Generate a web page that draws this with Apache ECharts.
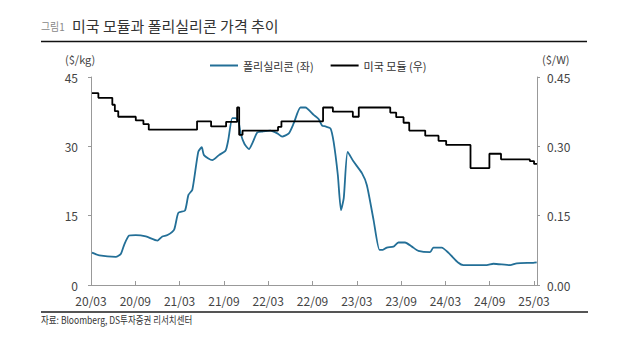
<!DOCTYPE html>
<html>
<head>
<meta charset="utf-8">
<script src="https://cdn.jsdelivr.net/npm/echarts@6/dist/echarts.min.js"></script>
<style>
html,body{margin:0;padding:0;background:#fff;}
#c{width:640px;height:347px;}
</style>
</head>
<body>
<div id="c"></div>
<script>
// ---- data ----
var xTickLabels = ['20/03','20/09','21/03','21/09','22/03','22/09','23/03','23/09','24/03','24/09','25/03'];

// Polysilicon price ($/kg), left axis
var polyDates = ['2020-03-05','2020-04-05','2020-06-12','2020-07-02','2020-07-16','2020-08-06','2020-09-03','2020-10-14',
  '2020-12-01','2020-12-21','2021-01-12','2021-02-09','2021-02-26','2021-03-23','2021-04-07','2021-04-23','2021-05-17',
  '2021-06-01','2021-06-10','2021-07-14','2021-08-11','2021-09-08','2021-09-19','2021-10-05','2021-10-18','2021-10-30',
  '2021-11-09','2021-11-25','2021-12-13','2021-12-28','2022-01-17','2022-02-08','2022-03-10','2022-04-08','2022-04-28',
  '2022-05-25','2022-06-15','2022-07-12','2022-08-02','2022-09-06','2022-09-26','2022-10-10','2022-10-24','2022-11-14',
  '2022-11-27','2022-12-14','2022-12-27','2023-01-08','2023-01-24','2023-02-18','2023-03-22','2023-04-12','2023-05-09',
  '2023-06-03','2023-06-17','2023-07-03','2023-07-30','2023-08-20','2023-09-17','2023-10-15','2023-11-11','2023-12-29',
  '2024-01-12','2024-02-16','2024-03-13','2024-04-24','2024-05-14','2024-08-19','2024-09-16','2024-11-24','2024-12-21',
  '2025-02-28','2025-03-12'];
var polyValues = [7.0,6.4,6.1,6.7,8.7,10.7,10.8,10.5,
  9.6,10.5,10.8,12.0,15.6,16.1,19.5,20.6,28.8,
  29.8,28.1,27.0,28.1,29.1,31.4,36.1,36.1,35.5,
  32.8,30.5,29.4,30.8,33.0,33.2,33.4,32.8,32.1,
  32.8,35.0,38.4,38.4,36.8,35.9,34.5,34.3,33.9,
  31.0,23.8,16.2,18.8,28.8,26.7,24.2,21.6,14.1,
  7.6,7.6,8.1,8.3,9.2,9.2,8.3,7.4,7.1,
  8.1,8.1,7.0,4.8,4.3,4.3,4.6,4.3,4.7,
  4.8,4.9];

// US module price ($/W), right axis (each value holds until the next date)
var moduleDates = ['2020-03-05','2020-04-01','2020-05-28','2020-06-08','2020-06-22','2020-09-03','2020-10-04','2020-10-26',
  '2021-05-12','2021-07-09','2021-09-10','2021-10-25','2021-11-03','2021-11-17','2022-04-11','2022-04-25','2022-10-14',
  '2022-11-24','2023-02-15','2023-03-09','2023-07-17','2023-08-11','2023-09-11','2023-10-04','2023-12-09','2024-02-03',
  '2024-03-04','2024-06-13','2024-08-30','2024-10-17','2025-02-14','2025-03-01','2025-03-13'];
var moduleValues = [0.415,0.405,0.390,0.376,0.364,0.356,0.348,0.336,
  0.354,0.343,0.353,0.384,0.325,0.334,0.342,0.354,0.384,
  0.375,0.364,0.384,0.373,0.363,0.351,0.334,0.323,0.312,
  0.303,0.253,0.284,0.272,0.268,0.262,0.262];

// ---- helpers ----
function monthsFromStart(s){
  var p = s.split('-').map(Number);
  return (p[0]-2020)*12 + (p[1]-3) + (p[2]-1)/30.4;
}
function pairs(dates, vals){
  return dates.map(function(d,i){ return [monthsFromStart(d), vals[i]]; });
}
var xTickValues = xTickLabels.map(function(_,i){ return i*6; });

var FONT = '"Noto Sans CJK KR", "Noto Sans", sans-serif';
var chart = echarts.init(document.getElementById('c'), null, {renderer:'svg'});
chart.setOption({
  animation:false,
  backgroundColor:'#fff',
  textStyle:{fontFamily:FONT},
  grid:{left:91, right:103, top:77, bottom:62, containLabel:false},
  legend:{
    left:205, top:55, itemGap:17, itemWidth:28, itemHeight:2, icon:'rect',
    textStyle:{fontSize:11, color:'#333', fontFamily:FONT},
    data:['폴리실리콘 (좌)','미국 모듈 (우)']
  },
  xAxis:{
    type:'value', min:0, max:60.4, interval:6,
    axisLine:{lineStyle:{color:'#999', width:1}},
    axisTick:{inside:true, length:4, lineStyle:{color:'#999'}, customValues:xTickValues},
    axisLabel:{color:'#444', fontSize:12, margin:9, fontFamily:FONT, customValues:xTickValues,
      formatter:function(v){ var i=Math.round(v/6); return xTickLabels[i]||''; }},
    splitLine:{show:false}
  },
  yAxis:[{
    type:'value', min:0, max:45, interval:15, position:'left',
    axisLine:{show:true, lineStyle:{color:'#999'}},
    axisTick:{show:true, length:3, lineStyle:{color:'#999'}},
    axisLabel:{color:'#444', fontSize:12, margin:13, fontFamily:FONT},
    splitLine:{show:false}
  },{
    type:'value', min:0, max:0.45, interval:0.15, position:'right',
    axisLine:{show:true, lineStyle:{color:'#999'}},
    axisTick:{show:true, length:3, lineStyle:{color:'#999'}},
    axisLabel:{color:'#444', fontSize:12, margin:10, fontFamily:FONT, formatter:function(v){return v.toFixed(2);}},
    splitLine:{show:false}
  }],
  series:[{
    name:'폴리실리콘 (좌)', type:'line', yAxisIndex:0, showSymbol:false, smooth:0.2,
    lineStyle:{color:'#236f97', width:1.8}, itemStyle:{color:'#236f97'},
    data:pairs(polyDates, polyValues)
  },{
    name:'미국 모듈 (우)', type:'line', yAxisIndex:1, showSymbol:false, step:'end',
    lineStyle:{color:'#000', width:1.8}, itemStyle:{color:'#000'},
    data:pairs(moduleDates, moduleValues)
  }],
  graphic:[
    {type:'text', x:41, y:21, scaleX:0.9, style:{text:'그림1', fill:'#888', font:'11px '+FONT}},
    {type:'text', x:72, y:18, style:{text:'미국 모듈과 폴리실리콘 가격 추이', fill:'#333', font:'15px '+FONT}},
    {type:'line', shape:{x1:41, y1:41.5, x2:587, y2:41.5}, style:{stroke:'#111', lineWidth:1.5}},
    {type:'text', x:65, y:53, style:{text:'($/kg)', fill:'#444', font:'11px '+FONT}},
    {type:'text', x:542, y:53, style:{text:'($/W)', fill:'#444', font:'11px '+FONT}},
    {type:'line', shape:{x1:41, y1:312, x2:588, y2:312}, style:{stroke:'#555', lineWidth:2}},
    {type:'text', x:41, y:315, scaleX:0.85, style:{text:'자료: Bloomberg, DS투자증권 리서치센터', fill:'#333', font:'10px '+FONT}}
  ]
});
</script>
</body>
</html>
